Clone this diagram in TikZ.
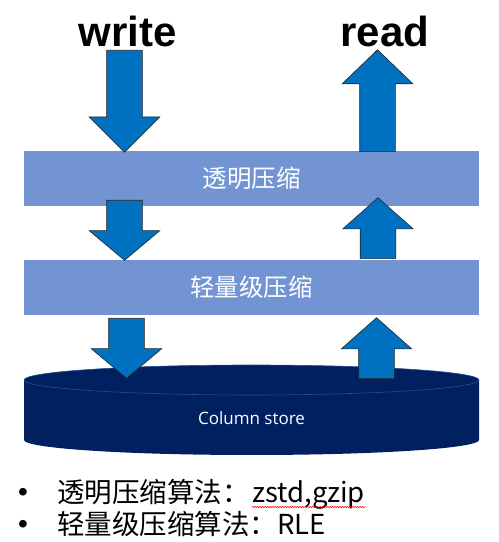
\documentclass[tikz,border=0pt]{standalone}
\usepackage{fontspec}
\setmainfont{Liberation Sans}
\newfontfamily\cjk{Noto Sans CJK SC}
\newfontfamily\uifont{Open Sans}
\usetikzlibrary{shapes.arrows, positioning, decorations.pathmorphing}
\definecolor{arrowblue}{RGB}{0,112,192}
\definecolor{layerblue}{RGB}{114,148,210}
\definecolor{storenavy}{RGB}{0,32,96}
\definecolor{rimblue}{RGB}{36,80,140}
\begin{document}
\begin{tikzpicture}[x=1pt, y=1pt,
  layer/.style={rectangle, fill=layerblue, minimum width=455pt, minimum height=55pt, inner sep=0pt, text=white, font=\cjk\fontsize{24.5}{28}\selectfont},
  blk/.style={single arrow, draw=black!85, line width=0.6pt, fill=arrowblue, inner xsep=17.5pt, inner ysep=0pt, minimum width=70pt, single arrow head extend=17.5pt, anchor=tail},
  down/.style={blk, shape border rotate=270},
  up/.style={blk, shape border rotate=90},
  title/.style={font=\bfseries\fontsize{42}{46}\selectfont, anchor=base, inner sep=0pt},
  item/.style={font=\cjk\fontsize{27.5}{30}\selectfont, anchor=base west, inner sep=0pt},
  wavy/.style={draw=red, line width=0.5pt, decorate, decoration={snake, segment length=2.5pt, amplitude=0.8pt}},
]
\useasboundingbox (0,0) rectangle (499,542);

% titles
\node[title] (write) at (128,495) {write};
\node[title] (read) at (385,495) {read};

% compression layers
\node[layer] (transp) at (251.5,363.5) {透明压缩};
\node[layer] (light) at (251.5,254.5) {轻量级压缩};

% column store
\fill[storenavy] (24,162) -- (24,102) arc[start angle=180, end angle=360, x radius=227.5, y radius=15]
  -- (479,162) arc[start angle=0, end angle=180, x radius=227.5, y radius=15] -- cycle;
\draw[rimblue, line width=0.6pt] (251.5,162) ellipse[x radius=227.5, y radius=15];
\node[font=\uifont\fontsize{17}{19}\selectfont, text=white] (store) at (251.5,124) {Column store};

% write path
\node[down, minimum height=102pt, single arrow tip angle=90] (w1) at (124.5,492) {};
\node[down, minimum height=60pt, single arrow tip angle=100] (w2) at (124.5,342) {};
\node[down, minimum height=60pt, single arrow tip angle=100] (w3) at (126.5,224) {};

% read path
\node[up, minimum height=102pt, single arrow tip angle=92] (r1) at (377.5,390) {};
\node[up, minimum height=61pt, single arrow tip angle=97] (r2) at (378,283) {};
\node[up, minimum height=61pt, single arrow tip angle=97] (r3) at (376.5,163) {};

% notes
\node[font=\fontsize{28}{30}\selectfont, anchor=base, inner sep=0pt] (dot1) at (23,40) {•};
\node[font=\fontsize{28}{30}\selectfont, anchor=base, inner sep=0pt] (dot2) at (23,9) {•};
\node[item] (algo1) at (57,39) {透明压缩算法：};
\node[item] (zs) at ([xshift=2pt]algo1.base east) {zstd,gzip};
\node[item] (algo2) at (57,8) {轻量级压缩算法：RLE};
\draw[wavy] ([yshift=-4pt]zs.base west) -- ([yshift=-4pt]zs.base east);
\end{tikzpicture}
\end{document}
